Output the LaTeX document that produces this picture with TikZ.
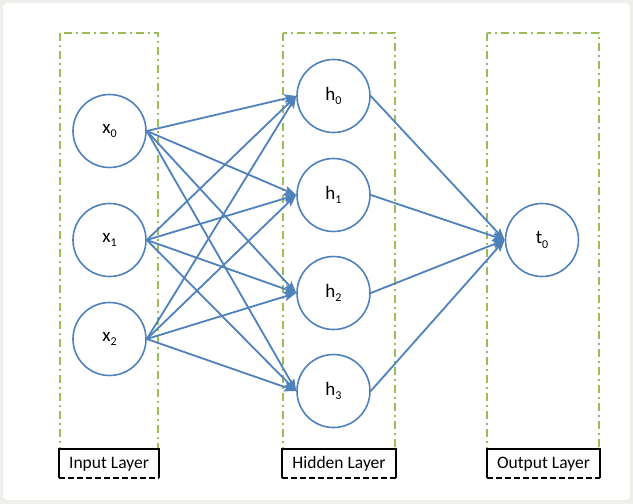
\documentclass[tikz,border=0pt]{standalone}
\usepackage{fontspec}
\setmainfont{Carlito}
\usetikzlibrary{arrows.meta}
\definecolor{nblue}{HTML}{4F81BD}
\definecolor{lgreen}{HTML}{9BBB59}
\definecolor{frame}{HTML}{EEEEEA}
\newcommand{\sbs}[2]{#1\raisebox{-0.45ex}{\fontsize{12}{12}\selectfont #2}}
\begin{document}
\begin{tikzpicture}[x=1pt,y=-1pt,
  neuron/.style={circle,draw=nblue,line width=1.6pt,minimum size=73pt,inner sep=0pt,font=\fontsize{19}{19}\selectfont},
  conn/.style={draw=nblue,line width=1.8pt,-{Stealth[length=12pt,width=9pt,inset=2.5pt]}},
  layerbox/.style={draw=lgreen,line width=1.5pt,dash pattern=on 8pt off 4pt on 2pt off 4pt},
  lab/.style={fill=white,inner sep=0pt,font=\fontsize{17.5}{17.5}\selectfont}]
\useasboundingbox (0,0) rectangle (633,504);
\fill[frame] (0,0) rectangle (633,504);
\fill[white,rounded corners=4pt] (3,3) rectangle (630,500);
% layer boxes
\draw[layerbox] (60,33) rectangle (158,463);
\draw[layerbox] (283,33) rectangle (395,463);
\draw[layerbox] (487,33) rectangle (599,463);
% label boxes
\foreach \l/\r/\t/\n in {59/159/Input Layer/li, 282/396/Hidden Layer/lh, 487/600/Output Layer/lo}{
  \fill[white] (\l,449) rectangle (\r,478);
  \draw[black,line width=1.1pt] (\l,478) -- (\l,449) -- (\r,449) -- (\r,478);
  \draw[black,line width=1.1pt,dash pattern=on 6pt off 3pt] (\l,478) -- (\r,478);
  \node[lab] (\n) at ({(\l+\r)/2},464) {\t};
}
% neurons
\node[neuron] (x0) at (109.5,131) {\sbs{x}{0}};
\node[neuron] (x1) at (109.5,240) {\sbs{x}{1}};
\node[neuron] (x2) at (109.5,339) {\sbs{x}{2}};
\node[neuron] (h0) at (333.5,96) {\sbs{h}{0}};
\node[neuron] (h1) at (333.5,195) {\sbs{h}{1}};
\node[neuron] (h2) at (333.5,293) {\sbs{h}{2}};
\node[neuron] (h3) at (333.5,391) {\sbs{h}{3}};
\node[neuron] (t0) at (542,240) {\sbs{t}{0}};
% connections
\foreach \i in {0,1,2}{
  \foreach \j in {0,1,2,3}{
    \draw[conn] (x\i.east) -- (h\j.west);
  }
}
\foreach \j in {0,1,2,3}{
  \draw[conn] (h\j.east) -- (t0.west);
}
\end{tikzpicture}
\end{document}
